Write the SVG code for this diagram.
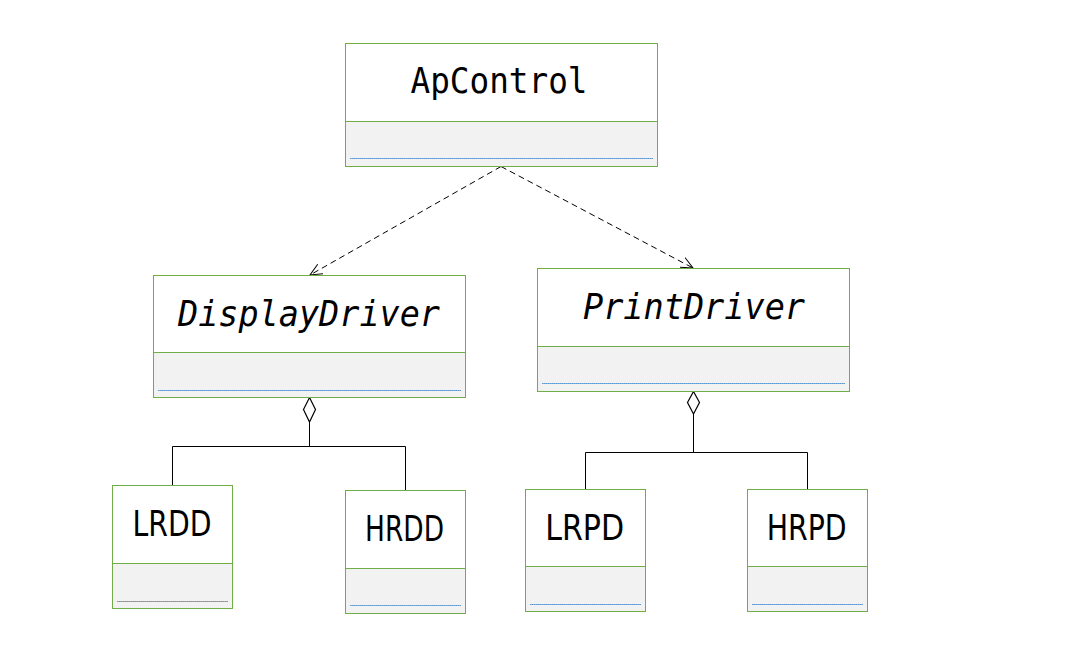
<svg xmlns="http://www.w3.org/2000/svg" width="1087" height="667" viewBox="0 0 1087 667">
<style>
.box{fill:#ffffff;stroke:#70ad47;stroke-width:1}
.comp{fill:#f2f2f2;stroke:#70ad47;stroke-width:1}
.dotbase{stroke:#a6a6a6;stroke-width:1}
.dot{stroke:#5b9bd5;stroke-width:1;stroke-dasharray:1 1}
.t{font-family:"DejaVu Sans Mono","Liberation Mono",monospace;font-size:36px;fill:#000;text-anchor:middle}
.i{font-style:italic}
.s{font-family:"DejaVu Sans","Liberation Sans",sans-serif;font-size:36px;fill:#000;text-anchor:middle}
.dep{fill:none;stroke:#000;stroke-width:1;stroke-dasharray:6 4}
.ln{fill:none;stroke:#000;stroke-width:1}
.dia{fill:#fff;stroke:#000;stroke-width:1.2}
</style>
<defs>
<marker id="open" markerWidth="14" markerHeight="12" refX="12" refY="6" orient="auto" markerUnits="userSpaceOnUse">
<path d="M0,0.5 L12,6 L0,11.5" fill="none" stroke="#000" stroke-width="1"/>
</marker>
</defs>
<rect width="1087" height="667" fill="#fff"/>

<g id="connectors">
<line class="dep" x1="501" y1="166.5" x2="310" y2="275" marker-end="url(#open)"/>
<line class="dep" x1="501" y1="166.5" x2="693" y2="268" marker-end="url(#open)"/>
<path class="ln" d="M309.5,422 V446.5 M172.5,485.5 V446.5 H405.5 V490"/>
<path class="dia" d="M309.5,397.5 L315.5,409.5 L309.5,422 L303.5,409.5 Z"/>
<path class="ln" d="M693.5,414 V452.5 M585.5,489 V452.5 H807.5 V489"/>
<path class="dia" d="M693.5,391.5 L699.5,402.5 L693.5,414 L687.5,402.5 Z"/>
</g>

<g id="ApControl">
<rect class="box" x="345.5" y="43.5" width="312" height="78"/>
<rect class="comp" x="345.5" y="121.5" width="312" height="45"/>
<line class="dotbase" x1="350" y1="158.5" x2="653" y2="158.5"/>
<line class="dot" x1="350" y1="158.5" x2="653" y2="158.5"/>
<text class="t" x="499" y="93" textLength="177" lengthAdjust="spacingAndGlyphs">ApControl</text>
</g>

<g id="DisplayDriver">
<rect class="box" x="153.5" y="275.5" width="312" height="77"/>
<rect class="comp" x="153.5" y="352.5" width="312" height="45"/>
<line class="dotbase" x1="158" y1="390.5" x2="461" y2="390.5"/>
<line class="dot" x1="158" y1="390.5" x2="461" y2="390.5"/>
<text class="t i" x="309" y="326" textLength="262" lengthAdjust="spacingAndGlyphs">DisplayDriver</text>
</g>

<g id="PrintDriver">
<rect class="box" x="537.5" y="268.5" width="312" height="78"/>
<rect class="comp" x="537.5" y="346.5" width="312" height="45"/>
<line class="dotbase" x1="542" y1="383.5" x2="845" y2="383.5"/>
<line class="dot" x1="542" y1="383.5" x2="845" y2="383.5"/>
<text class="t i" x="694" y="318.5" textLength="222" lengthAdjust="spacingAndGlyphs">PrintDriver</text>
</g>

<g id="LRDD">
<rect class="box" x="112.5" y="485.5" width="120" height="78"/>
<rect class="comp" x="112.5" y="563.5" width="120" height="45"/>
<line class="dotbase" x1="117" y1="601.5" x2="228" y2="601.5"/>
<line class="dot" x1="117" y1="601.5" x2="228" y2="601.5"/>
<text class="s" x="172" y="536" textLength="79" lengthAdjust="spacingAndGlyphs">LRDD</text>
</g>

<g id="HRDD">
<rect class="box" x="345.5" y="490.5" width="120" height="78"/>
<rect class="comp" x="345.5" y="568.5" width="120" height="45"/>
<line class="dotbase" x1="350" y1="605.5" x2="461" y2="605.5"/>
<line class="dot" x1="350" y1="605.5" x2="461" y2="605.5"/>
<text class="s" x="404.5" y="541" textLength="79" lengthAdjust="spacingAndGlyphs">HRDD</text>
</g>

<g id="LRPD">
<rect class="box" x="525.5" y="489.5" width="120" height="77"/>
<rect class="comp" x="525.5" y="566.5" width="120" height="45"/>
<line class="dotbase" x1="530" y1="604.5" x2="641" y2="604.5"/>
<line class="dot" x1="530" y1="604.5" x2="641" y2="604.5"/>
<text class="s" x="584.7" y="539.5" textLength="79" lengthAdjust="spacingAndGlyphs">LRPD</text>
</g>

<g id="HRPD">
<rect class="box" x="747.5" y="489.5" width="120" height="77"/>
<rect class="comp" x="747.5" y="566.5" width="120" height="45"/>
<line class="dotbase" x1="752" y1="604.5" x2="863" y2="604.5"/>
<line class="dot" x1="752" y1="604.5" x2="863" y2="604.5"/>
<text class="s" x="806.7" y="539.5" textLength="80" lengthAdjust="spacingAndGlyphs">HRPD</text>
</g>
</svg>
